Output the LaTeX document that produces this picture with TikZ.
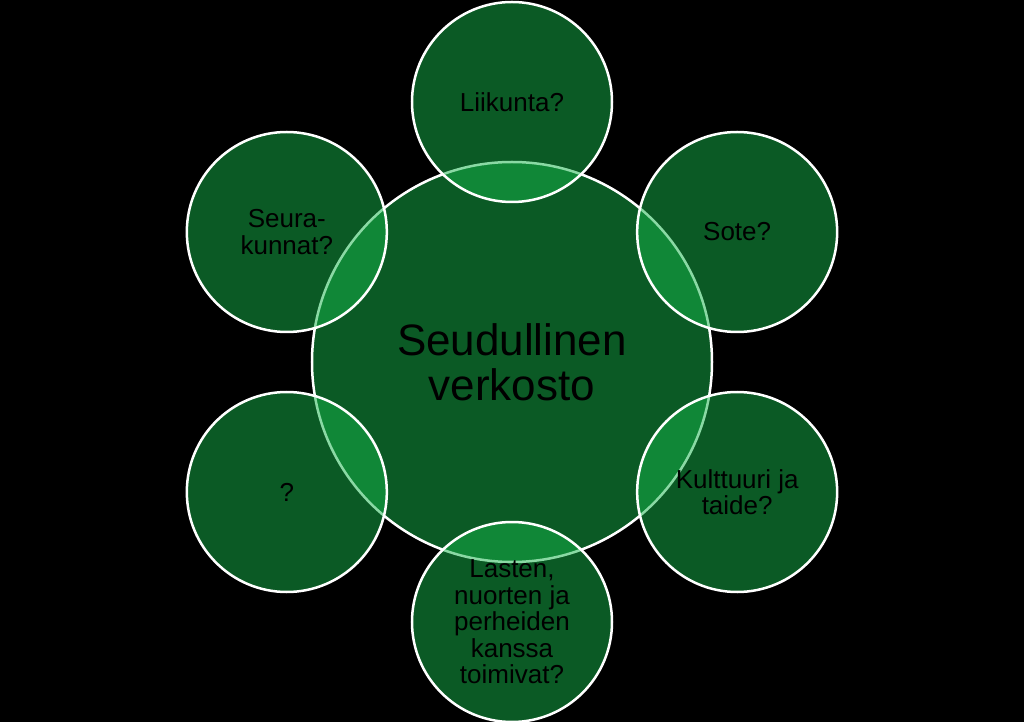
\documentclass[tikz,border=0pt]{standalone}
\usepackage{fontspec}
\setmainfont{Liberation Sans}
\definecolor{leafgreen}{RGB}{22,180,74}

\begin{document}
\begin{tikzpicture}[x=1pt,y=1pt,
  hub/.style={circle,draw=white,line width=2.5pt,fill=leafgreen,fill opacity=.5,draw opacity=1,text opacity=1,minimum size=400pt,inner sep=0pt,align=center,font=\fontsize{44}{45}\selectfont},
  spoke/.style={hub,minimum size=200pt,font=\fontsize{26}{26.5}\selectfont}]
\fill[black] (-512,-360) rectangle (512,362);
\useasboundingbox (-512,-360) rectangle (512,362);
\node[hub] (net) at (0,0) {Seudullinen\\verkosto};
\node[spoke] (sport) at (90:260) {Liikunta?};
\node[spoke] (sote) at (30:260) {Sote?};
\node[spoke] (culture) at (-30:260) {Kulttuuri ja\\taide?};
\node[spoke] (youth) at (-90:260) {Lasten,\\nuorten ja\\perheiden\\kanssa\\toimivat?};
\node[spoke] (other) at (210:260) {?};
\node[spoke] (clubs) at (150:260) {Seura-\\kunnat?};
\end{tikzpicture}
\end{document}
